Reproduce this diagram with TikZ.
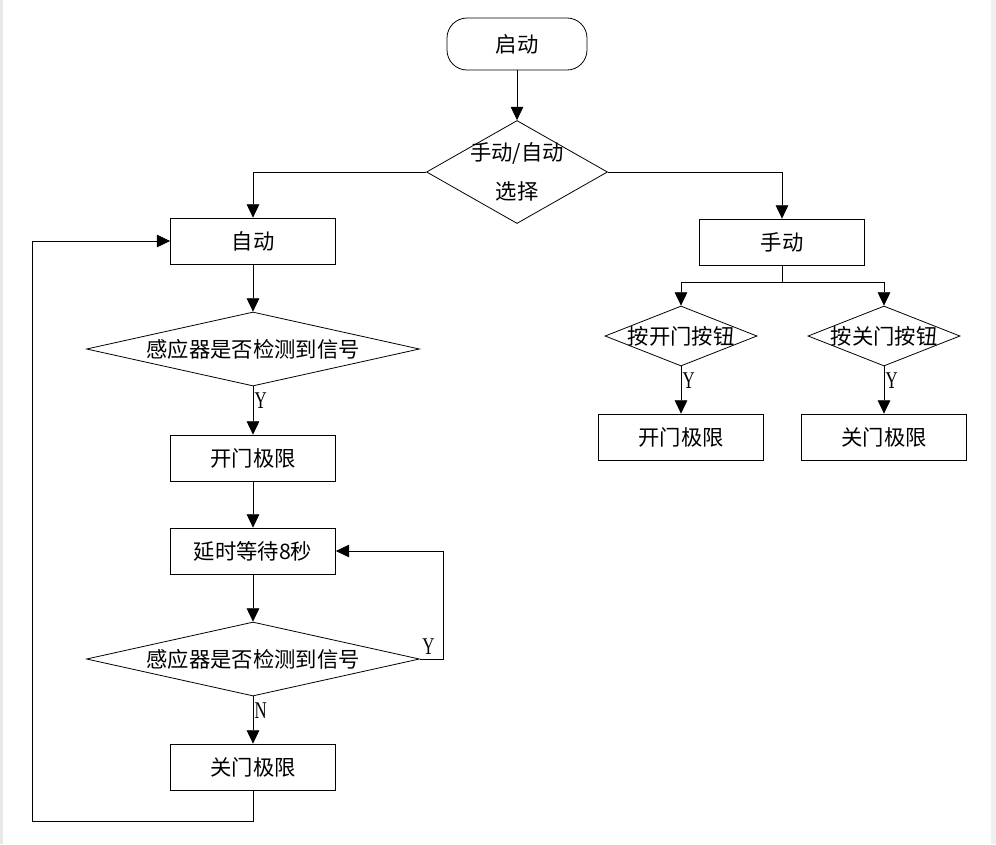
\documentclass[tikz,border=0pt]{standalone}
\usepackage{fontspec}
\setmainfont{Liberation Serif}
\newfontfamily\cjk{Noto Sans CJK SC}
\usetikzlibrary{shapes.geometric,arrows.meta}
\newcommand{\narrow}[1]{\scalebox{0.7}[1]{#1}}

\begin{document}
\begin{tikzpicture}[x=0.75pt,y=-0.75pt,line width=0.6pt,
  txt/.style={font=\cjk\fontsize{16}{29}\selectfont},
  box/.style={draw,rectangle,txt,minimum width=123.75pt,minimum height=34.5pt},
  startbox/.style={draw,rectangle,rounded corners=15pt,txt,minimum width=105pt,minimum height=39pt},
  bigdec/.style={draw,diamond,inner sep=0pt,minimum width=249.75pt,minimum height=55.5pt},
  smalldec/.style={draw,diamond,inner sep=0pt,minimum width=114pt,minimum height=45pt},
  yn/.style={font=\fontsize{18}{20}\selectfont,inner sep=1pt},
  arr/.style={-{Triangle[length=10pt,width=9.5pt]}}]

\useasboundingbox (0,0) rectangle (996,844);
\fill[gray!18] (0,0) rectangle (3,844);
\fill[gray!12] (991,0) rectangle (996,844);

\node[startbox] (start) at (517,44) {启动};
\node[draw,diamond,inner sep=0pt,minimum width=135.75pt,minimum height=77.25pt,
      label={[txt,align=center]center:手动/自动\\选择}] (sel) at (517,172) {};

% automatic branch
\node[box] (auto) at (253,241) {自动};
\node[bigdec,label={[txt]center:感应器是否检测到信号}] (det1) at (253,349) {};
\node[box] (open1) at (253,458) {开门极限};
\node[box] (wait) at (253,551) {延时等待8秒};
\node[bigdec,label={[txt]center:感应器是否检测到信号}] (det2) at (253,659) {};
\node[box] (close1) at (253,767) {关门极限};
\coordinate (back) at (32,821);

% manual branch
\node[box] (manual) at (782,242) {手动};
\node[smalldec,label={[txt]center:按开门按钮}] (btnopen) at (681,336) {};
\node[smalldec,label={[txt]center:按关门按钮}] (btnclose) at (884,336) {};
\node[box] (open2) at (681,437) {开门极限};
\node[box] (close2) at (884,437) {关门极限};

\draw[arr] (start) -- (sel);
\draw[arr] (sel.west) -| (auto);
\draw[arr] (sel.east) -| (manual);

\draw[arr] (auto) -- (det1);
\draw[arr] (det1) -- node[yn,right,pos=0.3] {\narrow{Y}} (open1);
\draw[arr] (open1) -- (wait);
\draw[arr] (wait) -- (det2);
\draw[arr] (det2.east) -- ++(23,0) node[yn,above left,xshift=-5pt,yshift=2pt] {\narrow{Y}} |- (wait.east);
\draw[arr] (det2) -- node[yn,right,pos=0.3] {\narrow{N}} (close1);
\draw[arr] (close1.south) |- (back) |- (auto.west);

\draw (manual.south) -- ++(0,17) coordinate (split);
\draw[arr] (split) -| (btnopen);
\draw[arr] (split) -| (btnclose);
\draw[arr] (btnopen) -- node[yn,right,pos=0.3] {\narrow{Y}} (open2);
\draw[arr] (btnclose) -- node[yn,right,pos=0.3] {\narrow{Y}} (close2);

\end{tikzpicture}
\end{document}
